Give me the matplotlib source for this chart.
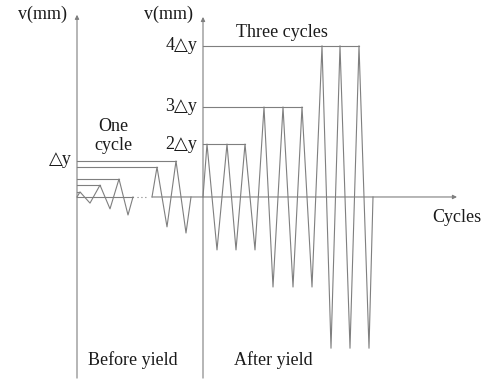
import matplotlib
matplotlib.use("Agg")
import matplotlib.pyplot as plt

# x = time step, y = displacement in units of the yield displacement (dy)
before_t = [0, 3, 13, 23, 33, 42, 51, 56]
before_v = [0, 0.14, -0.17, 0.33, -0.33, 0.5, -0.5, 0]

near_t = [75, 80, 90, 99, 109, 114]
near_v = [0, 0.83, -0.83, 1.0, -1.0, 0]

after_t = [126, 130, 140, 150, 159, 168, 178, 187, 196, 206, 216, 225, 235,
           245, 254, 263, 273, 282, 292, 296]
after_v = [0, 1.47, -1.47, 1.47, -1.47, 1.47, -1.47, 2.5, -2.5, 2.5, -2.5, 2.5, -2.5,
           4.2, -4.2, 4.2, -4.2, 4.2, -4.2, 0]

# peak level lines: (level, end time)
before_levels = [0.14, 0.33, 0.5, 0.83, 1.0]
before_ends = [3, 23, 42, 80, 99]
after_levels = [1.47, 2.5, 4.2]
after_ends = [168, 225, 282]
after_labels = ["2△y", "3△y", "4△y"]

grey = "#7f7f7f"
txt = "#1a1a1a"
lw = 0.8
fam = ["Liberation Serif", "DejaVu Sans"]
fs = 13

fig = plt.figure(figsize=(4.86, 3.81), dpi=100)
ax = fig.add_axes([0, 0, 1, 1])
ax.set_xlim(-77, 409)
ax.set_ylim(-5.11, 5.47)
ax.axis("off")

# axes
arrow = dict(arrowstyle="-|>", color=grey, lw=lw, mutation_scale=6, shrinkA=0, shrinkB=0)
ax.annotate("", xy=(0, 5.06), xytext=(0, -5.03), arrowprops=arrow)
ax.annotate("", xy=(126, 5.0), xytext=(126, -5.03), arrowprops=arrow)
ax.plot([0, 56], [0, 0], color=grey, lw=lw)
ax.plot([60, 70], [0, 0], color=grey, lw=lw, linestyle=(0, (1, 2.5)))
ax.annotate("", xy=(380, 0), xytext=(75, 0), arrowprops=arrow)

# loading history
ax.plot(before_t, before_v, color=grey, lw=lw)
ax.plot(near_t, near_v, color=grey, lw=lw)
ax.plot(after_t, after_v, color=grey, lw=lw)

for lev, end in zip(before_levels, before_ends):
    ax.plot([0, end], [lev, lev], color=grey, lw=lw)
for lev, end, lab in zip(after_levels, after_ends, after_labels):
    ax.plot([126, end], [lev, lev], color=grey, lw=lw)
    ax.text(120, lev, lab, ha="right", va="center", family=fam, fontsize=fs, color=txt)

ax.text(-5, 1.03, "△y", ha="right", va="center", family=fam, fontsize=fs, color=txt)
ax.text(-35, 5.06, "v(mm)", ha="center", va="center", family=fam, fontsize=fs, color=txt)
ax.text(91, 5.06, "v(mm)", ha="center", va="center", family=fam, fontsize=fs, color=txt)
ax.text(205, 4.58, "Three cycles", ha="center", va="center", family=fam, fontsize=fs,
        color=txt)
ax.text(36, 1.69, "One\ncycle", ha="center", va="center", family=fam, fontsize=fs,
        linespacing=1.1, color=txt)
ax.text(380, -0.58, "Cycles", ha="center", va="center", family=fam, fontsize=fs, color=txt)
ax.text(56, -4.53, "Before yield", ha="center", va="center", family=fam, fontsize=fs,
        color=txt)
ax.text(196, -4.53, "After yield", ha="center", va="center", family=fam, fontsize=fs,
        color=txt)

plt.savefig("out.png", dpi=100)
